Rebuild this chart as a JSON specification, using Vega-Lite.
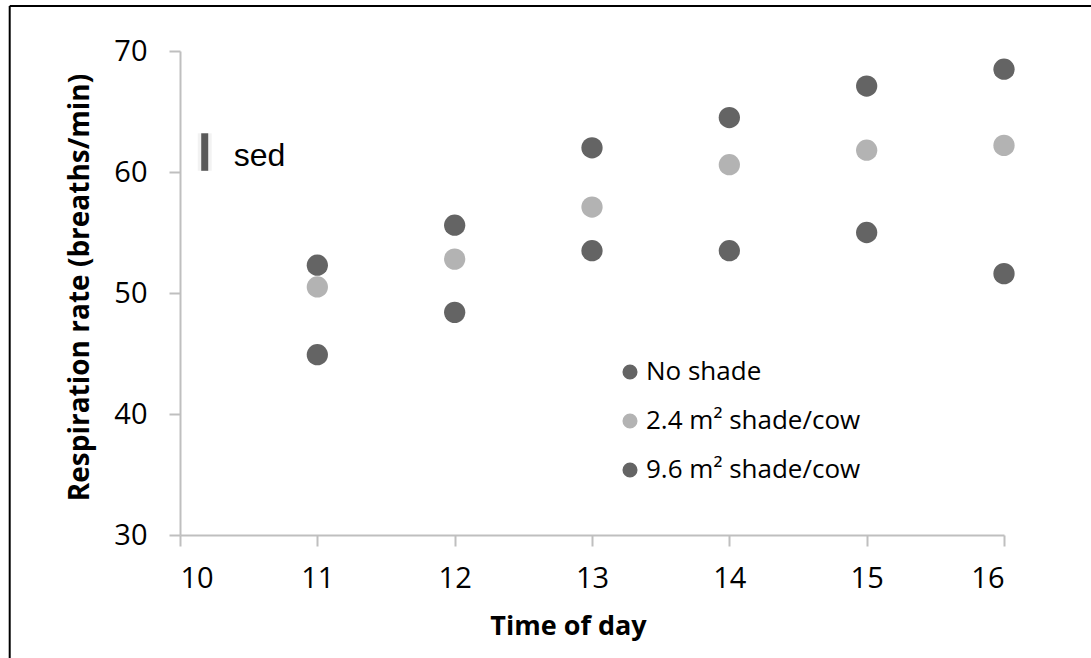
{
  "$schema": "https://vega.github.io/schema/vega-lite/v6.json",
  "autosize": {"type": "none"},
  "width": 824,
  "height": 484,
  "padding": {"left": 180, "top": 51, "right": 87, "bottom": 123},
  "background": "white",
  "config": {
    "view": {"stroke": null},
    "font": "Open Sans",
    "axis": {
      "grid": false,
      "domainColor": "#BFBFBF",
      "domainWidth": 2,
      "tickColor": "#BFBFBF",
      "tickWidth": 2,
      "tickSize": 11,
      "labelFont": "Open Sans",
      "labelFontSize": 29,
      "labelColor": "#000000",
      "titleFont": "Open Sans",
      "titleFontWeight": "bold",
      "titleColor": "#000000"
    }
  },
  "datasets": {
    "resp": [
      {"time": 11, "rate": 52.3, "group": "No shade"},
      {"time": 12, "rate": 55.6, "group": "No shade"},
      {"time": 13, "rate": 62.0, "group": "No shade"},
      {"time": 14, "rate": 64.5, "group": "No shade"},
      {"time": 15, "rate": 67.1, "group": "No shade"},
      {"time": 16, "rate": 68.5, "group": "No shade"},
      {"time": 11, "rate": 50.5, "group": "2.4 m² shade/cow"},
      {"time": 12, "rate": 52.8, "group": "2.4 m² shade/cow"},
      {"time": 13, "rate": 57.1, "group": "2.4 m² shade/cow"},
      {"time": 14, "rate": 60.6, "group": "2.4 m² shade/cow"},
      {"time": 15, "rate": 61.8, "group": "2.4 m² shade/cow"},
      {"time": 16, "rate": 62.2, "group": "2.4 m² shade/cow"},
      {"time": 11, "rate": 44.9, "group": "9.6 m² shade/cow"},
      {"time": 12, "rate": 48.4, "group": "9.6 m² shade/cow"},
      {"time": 13, "rate": 53.5, "group": "9.6 m² shade/cow"},
      {"time": 14, "rate": 53.5, "group": "9.6 m² shade/cow"},
      {"time": 15, "rate": 55.0, "group": "9.6 m² shade/cow"},
      {"time": 16, "rate": 51.6, "group": "9.6 m² shade/cow"}
    ],
    "sed": [
      {"time": 10.18, "low": 60.1, "high": 63.2, "label": "sed"}
    ],
    "frame": [{}]
  },
  "layer": [
    {
      "data": {"name": "frame"},
      "mark": {"type": "rule", "color": "#000000", "strokeWidth": 2},
      "encoding": {
        "x": {"datum": 8.76, "type": "quantitative", "scale": {"domain": [10, 16], "nice": false}},
        "x2": {"datum": 16.7},
        "y": {"datum": 73.72, "type": "quantitative", "scale": {"domain": [30, 70], "nice": false}}
      }
    },
    {
      "data": {"name": "frame"},
      "mark": {"type": "rule", "color": "#000000", "strokeWidth": 2},
      "encoding": {
        "x": {"datum": 8.76, "type": "quantitative", "scale": {"domain": [10, 16], "nice": false}},
        "y": {"datum": 73.72, "type": "quantitative", "scale": {"domain": [30, 70], "nice": false}},
        "y2": {"datum": 19.5}
      }
    },
    {
      "data": {"name": "sed"},
      "mark": {"type": "rule", "color": "#000000", "strokeWidth": 14, "opacity": 0.05},
      "encoding": {
        "x": {"field": "time", "type": "quantitative", "scale": {"domain": [10, 16], "nice": false}},
        "y": {"field": "low", "type": "quantitative", "scale": {"domain": [30, 70], "nice": false}},
        "y2": {"field": "high"}
      }
    },
    {
      "data": {"name": "sed"},
      "mark": {"type": "rule", "color": "#595959", "strokeWidth": 7},
      "encoding": {
        "x": {"field": "time", "type": "quantitative", "scale": {"domain": [10, 16], "nice": false}},
        "y": {"field": "low", "type": "quantitative", "scale": {"domain": [30, 70], "nice": false}},
        "y2": {"field": "high"}
      }
    },
    {
      "data": {"name": "sed"},
      "mark": {"type": "text", "font": "Liberation Sans", "fontSize": 32, "align": "left", "baseline": "alphabetic", "dx": 29, "dy": -5, "color": "#000000"},
      "encoding": {
        "x": {"field": "time", "type": "quantitative", "scale": {"domain": [10, 16], "nice": false}},
        "y": {"field": "low", "type": "quantitative", "scale": {"domain": [30, 70], "nice": false}},
        "text": {"field": "label"}
      }
    },
    {
      "data": {"name": "resp"},
      "mark": {"type": "point", "filled": true, "shape": "circle", "size": 452, "opacity": 1},
      "encoding": {
        "x": {
          "field": "time", "type": "quantitative",
          "scale": {"domain": [10, 16], "nice": false},
          "axis": {"values": [10, 11, 12, 13, 14, 15, 16], "format": "d", "labelPadding": 18, "title": "Time of day", "titleFontSize": 27, "titleX": 388, "titleY": 99, "titleBaseline": "alphabetic"}
        },
        "y": {
          "field": "rate", "type": "quantitative",
          "scale": {"domain": [30, 70], "nice": false},
          "axis": {"values": [30, 40, 50, 60, 70], "format": "d", "labelPadding": 22, "title": "Respiration rate (breaths/min)", "titleFontSize": 28, "titleX": -92, "titleY": 236, "titleBaseline": "alphabetic", "titleAngle": -90}
        },
        "color": {
          "field": "group", "type": "nominal",
          "scale": {"domain": ["No shade", "2.4 m² shade/cow", "9.6 m² shade/cow"], "range": ["#646464", "#B3B3B3", "#646464"]},
          "legend": {
            "title": null, "orient": "none", "legendX": 437, "legendY": 308, "padding": 0,
            "symbolType": "circle", "symbolSize": 227, "symbolStrokeWidth": 0,
            "labelFont": "Open Sans", "labelFontSize": 26, "labelColor": "#000000",
            "labelOffset": 3, "rowPadding": 23, "labelLimit": 400
          }
        }
      }
    }
  ]
}
